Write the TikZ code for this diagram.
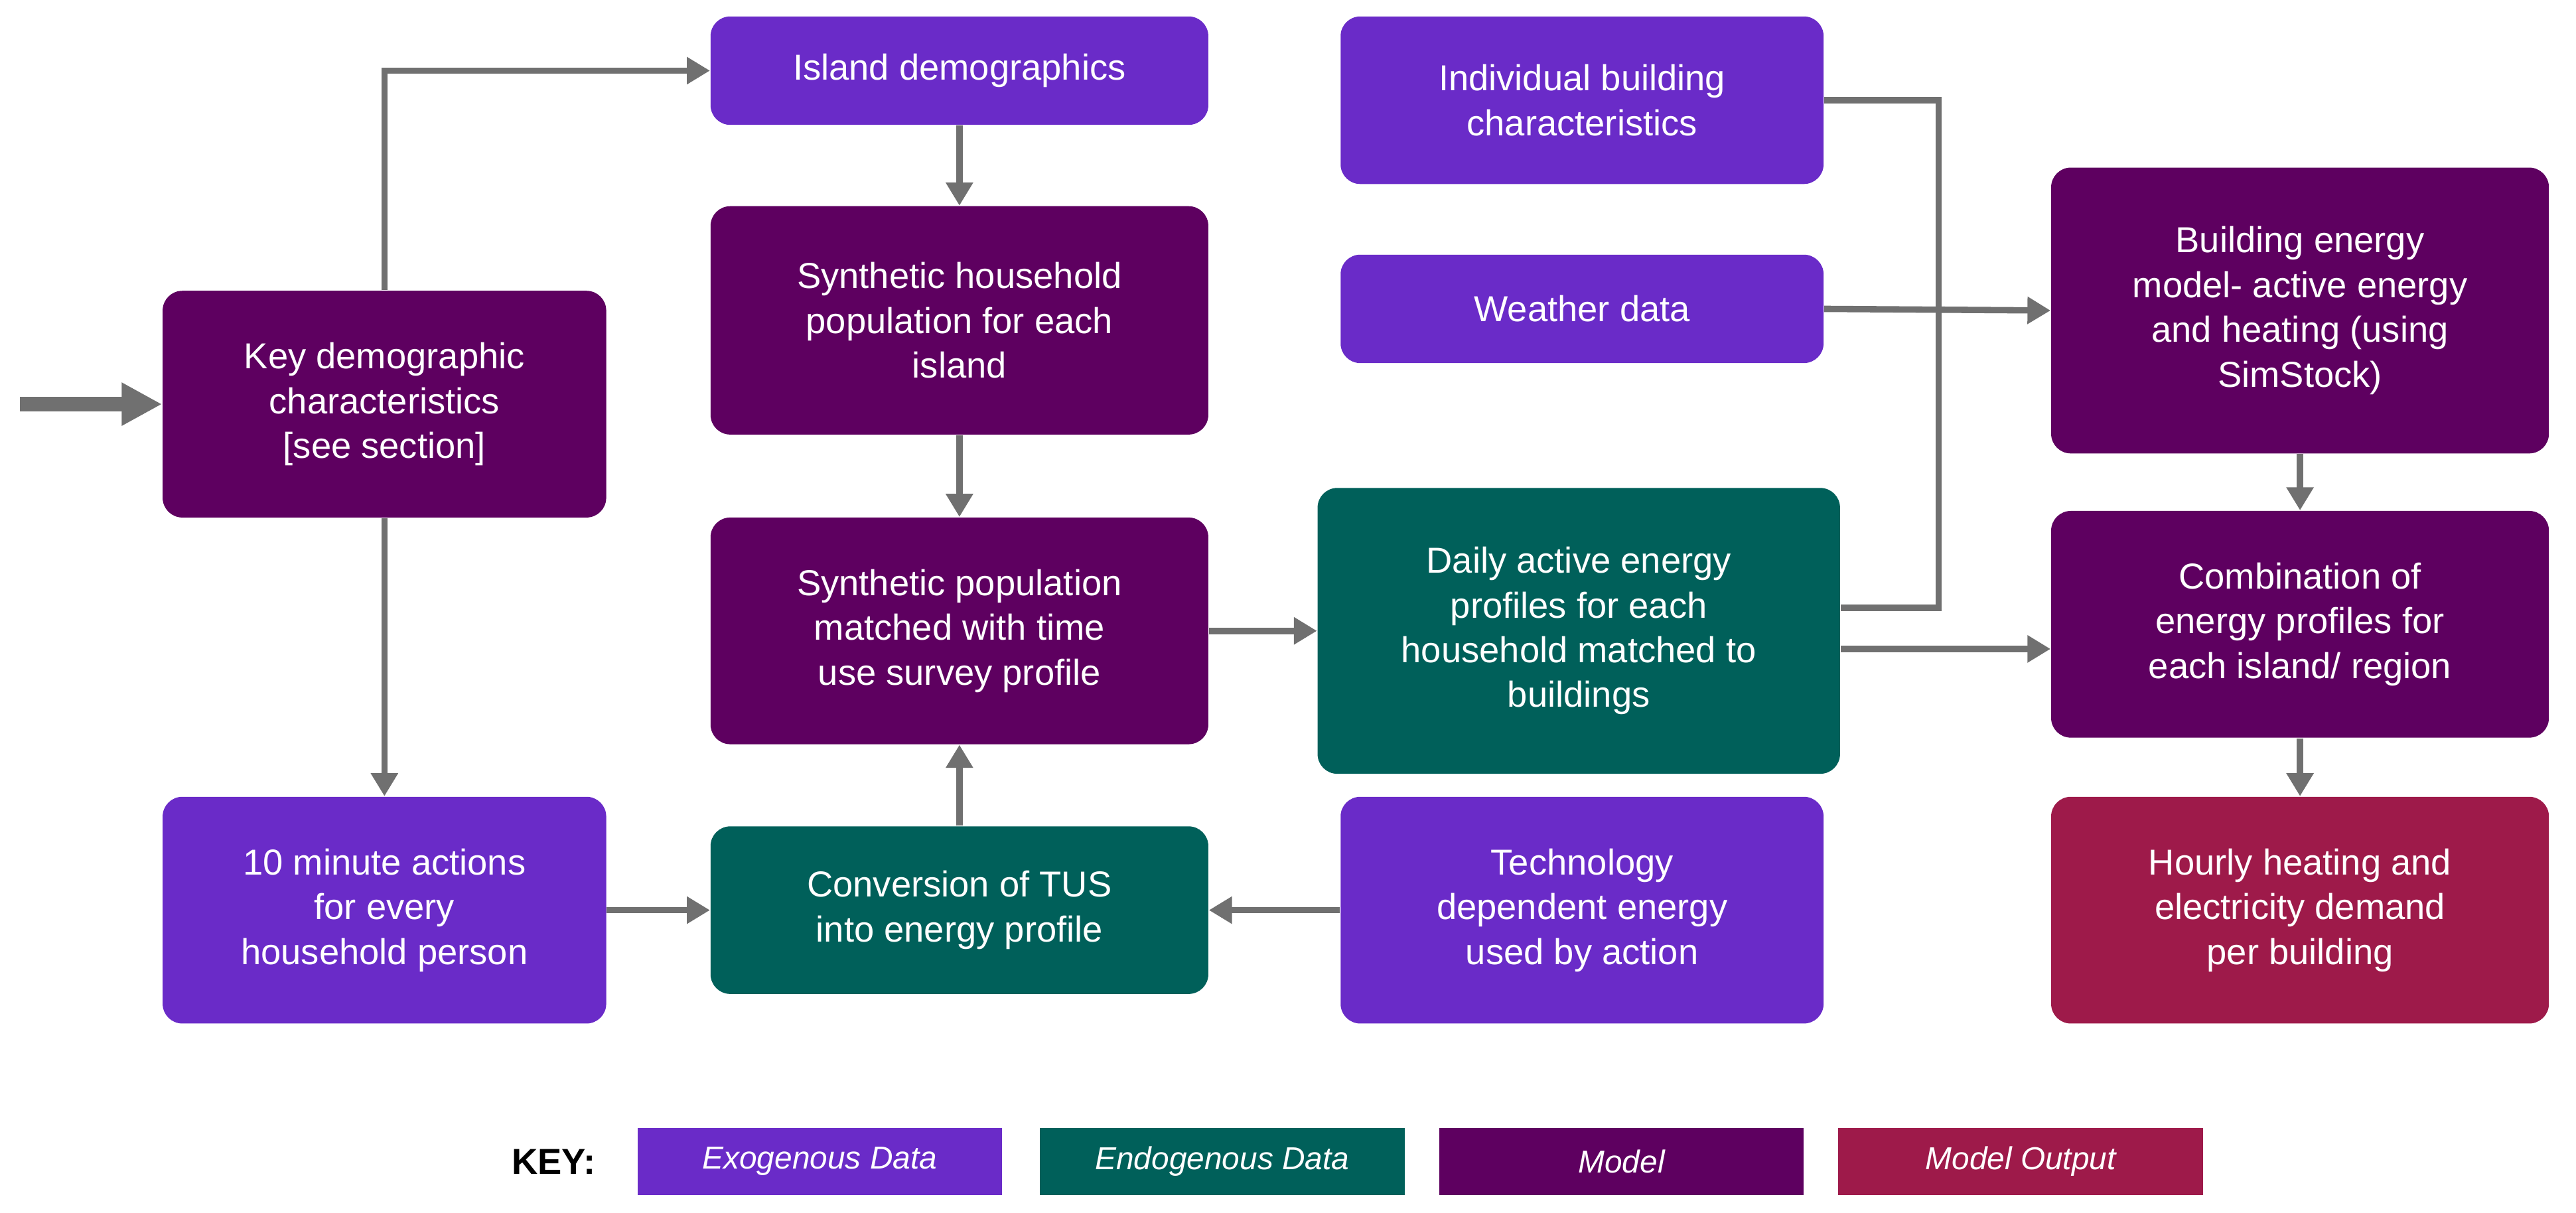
\documentclass[tikz,border=0pt]{standalone}
\usepackage{fontspec}
\setmainfont{Liberation Sans}
\usetikzlibrary{arrows.meta}
\definecolor{exo}{HTML}{6A2BC8}
\definecolor{endo}{HTML}{00605A}
\definecolor{mdl}{HTML}{5E0060}
\definecolor{outc}{HTML}{9E1A4A}
\definecolor{arr}{HTML}{707070}
\begin{document}
\begin{tikzpicture}[x=0.02cm,y=-0.02cm,
  box/.style={rounded corners=0.24cm,text=white,align=center,inner sep=0pt,font=\fontsize{12.5}{15.5}\selectfont},
  exo/.style={box,fill=exo},endo/.style={box,fill=endo},mdl/.style={box,fill=mdl},outbox/.style={box,fill=outc},
  sz/.style 2 args={minimum width=#1*0.02cm,minimum height=#2*0.02cm},
  ar/.style={draw=arr,line width=2.2pt,-{Triangle[length=8pt,width=9pt]}},
  ln/.style={draw=arr,line width=2.2pt},
  kb/.style={text=white,font=\fontsize{11}{13}\selectfont\itshape,minimum width=222*0.02cm,minimum height=41*0.02cm,inner sep=0pt}]
\useasboundingbox (0,0) rectangle (1568,738);
\node[exo,sz={303}{66}] (isl) at (584,43) {Island demographics};
\node[mdl,sz={303}{139}] (shh) at (584,195) {Synthetic household\\population for each\\island};
\node[mdl,sz={303}{138}] (spm) at (584,384) {Synthetic population\\matched with time\\use survey profile};
\node[endo,sz={303}{102}] (tus) at (584,554) {Conversion of TUS\\into energy profile};
\node[mdl,sz={270}{138}] (key) at (234,246) {Key demographic\\characteristics\\{[see section]}};
\node[exo,sz={270}{138}] (ten) at (234,554) {10 minute actions\\for every\\household person};
\node[exo,sz={294}{102}] (ind) at (963,61) {Individual building\\characteristics};
\node[exo,sz={294}{66}] (wea) at (963,188) {Weather data};
\node[endo,sz={318}{174}] (day) at (961,384) {Daily active energy\\profiles for each\\household matched to\\buildings};
\node[exo,sz={294}{138}] (tech) at (963,554) {Technology\\dependent energy\\used by action};
\node[mdl,sz={303}{174}] (bem) at (1400,189) {Building energy\\model- active energy\\and heating (using\\SimStock)};
\node[mdl,sz={303}{138}] (comb) at (1400,380) {Combination of\\energy profiles for\\each island/ region};
\node[outbox,sz={303}{138}] (hour) at (1400,554) {Hourly heating and\\electricity demand\\per building};
\coordinate (in) at (12,246);
\draw[draw=arr,line width=5pt,-{Triangle[length=14pt,width=14pt]}] (in) -- (key.west);
\draw[ar] (key.north) |- (isl.west);
\draw[ar] (key.south) -- (ten.north);
\draw[ar] (isl.south) -- (shh.north);
\draw[ar] (shh.south) -- (spm.north);
\draw[ar] (tus.north) -- (spm.south);
\draw[ar] (ten.east) -- (tus.west);
\draw[ar] (tech.west) -- (tus.east);
\draw[ar] (spm.east) -- (day.west);
\draw[ln] (ind.east) -- (1180,61) -- (1180,370) -- (day.east |- 0,370);
\draw[ar] (wea.east) -- (bem.west);
\draw[ar] (day.east |- 0,395) -- (comb.west |- 0,395);
\draw[ar] (bem.south) -- (comb.north);
\draw[ar] (comb.south) -- (hour.north);
\node[font=\fontsize{12.5}{15}\selectfont\bfseries] (k) at (337,707) {KEY:};
\node[kb,fill=exo] (k1) at (499,707) {Exogenous Data};
\node[kb,fill=endo] (k2) at (744,707) {Endogenous Data};
\node[kb,fill=mdl] (k3) at (987,707) {Model};
\node[kb,fill=outc] (k4) at (1230,707) {Model Output};
\end{tikzpicture}
\end{document}
